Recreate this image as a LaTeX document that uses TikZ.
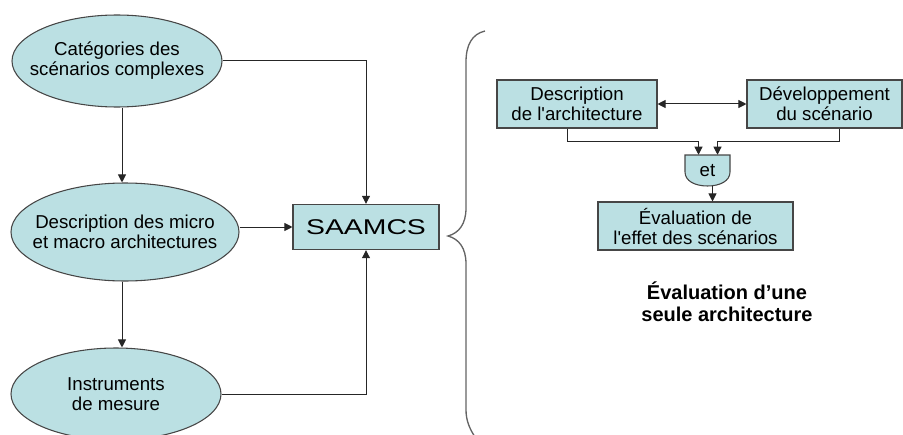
\documentclass[tikz,border=0pt]{standalone}
\usepackage{fontspec}
\setmainfont{Liberation Sans}
\newfontfamily\widesans[FakeStretch=1.33]{Liberation Sans}
\usetikzlibrary{shapes.geometric,arrows.meta}

\definecolor{cyanfill}{RGB}{187,224,227}
\definecolor{edgegray}{RGB}{70,70,70}
\definecolor{bracegray}{RGB}{100,100,100}

\tikzset{
  ovalbox/.style={ellipse,draw=edgegray,line width=0.8pt,fill=cyanfill,inner sep=0pt},
  ovaltext/.style={align=center,inner sep=0pt,font=\fontsize{14}{15}\selectfont},
  rectbox/.style={rectangle,draw=edgegray,line width=0.8pt,fill=cyanfill,align=center,inner sep=0pt,font=\fontsize{14}{15}\selectfont},
  arr/.style={draw=black!85,line width=0.75pt,-{Triangle[length=6pt,width=6pt]}},
  biarr/.style={draw=black!85,line width=0.75pt,{Triangle[length=6pt,width=6pt]}-{Triangle[length=6pt,width=6pt]}},
}

\begin{document}
\begin{tikzpicture}[x=0.75pt,y=0.75pt,yscale=-1,xscale=1]
\useasboundingbox (0,0) rectangle (903,435);
\clip (0,0) rectangle (903,435);

%Shape: Ellipse [cat]
\node[ovalbox,minimum width=157.5pt,minimum height=69pt,label={[ovaltext]center:Catégories des\\scénarios complexes}] (cat) at (117,61) {};
%Shape: Ellipse [desc]
\node[ovalbox,minimum width=171pt,minimum height=73.5pt,label={[ovaltext]center:Description des micro\\et macro architectures}] (desc) at (125,232) {};
%Shape: Ellipse [instr]
\node[ovalbox,minimum width=157.5pt,minimum height=69pt,label={[ovaltext]center:Instruments\\de mesure}] (instr) at (116,394) {};
%Shape: Rectangle [saamcs]
\node[rectbox,minimum width=109.5pt,minimum height=34pt,font=\widesans\fontsize{16}{18}\selectfont] (saamcs) at (366,227) {SAAMCS};

%Straight Lines
\draw[arr] ([xshift=3.75pt]cat.south) -- ([xshift=3.75pt]cat.south |- desc.north);
\draw[arr] ([xshift=-2.25pt]desc.south) -- ([xshift=-2.25pt]desc.south |- instr.north);
\draw[arr] (cat.east) -| (saamcs.north);
\draw[arr] (desc.east |- saamcs.west) -- (saamcs.west);
\draw[arr] (instr.east) -| (saamcs.south);

%Shape: Brace
\draw[bracegray,line width=1pt] (485,31) .. controls (472,34) and (466,45) .. (466,62) -- (466,208) .. controls (466,224) and (459,233) .. (448,236) .. controls (459,239) and (466,248) .. (466,264) -- (466,410) .. controls (466,421) and (470,430) .. (477,440);

%Shape: Rectangle [darch]
\node[rectbox,minimum width=120pt,minimum height=36pt] (darch) at (577,104) {Description\\de l\textquotesingle architecture};
%Shape: Rectangle [dscen]
\node[rectbox,minimum width=116.25pt,minimum height=36pt] (dscen) at (824.5,104) {Développement\\du scénario};
%Shape: Gate [et]
\draw[edgegray,line width=0.8pt,fill=cyanfill] (685,155) -- (730,155) -- (730,172) .. controls (730,181) and (720,186) .. (707.5,186) .. controls (695,186) and (685,181) .. (685,172) -- cycle;
\node[minimum width=33.75pt,minimum height=23.25pt,inner sep=0pt,font=\fontsize{14}{15}\selectfont] (et) at (707.5,170.5) {et};
%Shape: Rectangle [evalfx]
\node[rectbox,minimum width=146.25pt,minimum height=36pt] (evalfx) at (695.5,226) {Évaluation de\\l\textquotesingle effet des scénarios};

%Straight Lines
\draw[biarr] (darch.east) -- (dscen.west);
\draw[arr] ([xshift=-7.5pt]darch.south) |- ([xshift=-6.75pt,yshift=-10pt]et.north) -- ([xshift=-6.75pt]et.north);
\draw[arr] ([xshift=11.25pt]dscen.south) |- ([xshift=7.5pt,yshift=-10pt]et.north) -- ([xshift=7.5pt]et.north);
\draw[arr] ([xshift=3.75pt]et.south) -- ([xshift=3.75pt]et.south |- evalfx.north);

%Text [title]
\node[align=center,font=\bfseries\fontsize{15}{16.5}\selectfont] (title) at (727,302) {Évaluation d’une\\seule architecture};

\end{tikzpicture}
\end{document}
